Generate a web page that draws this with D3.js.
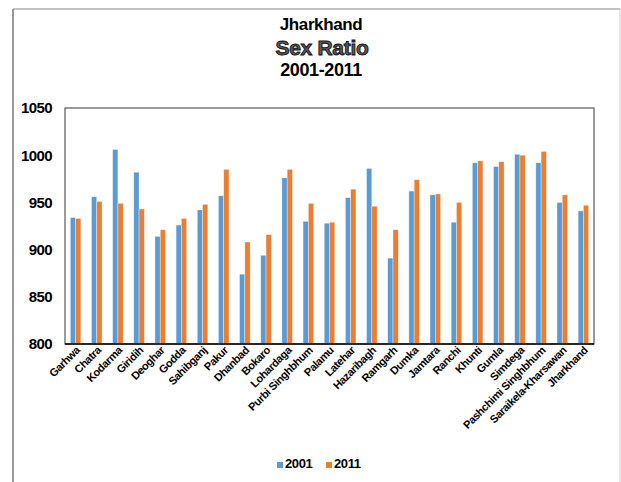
<!DOCTYPE html>
<html>
<head>
<meta charset="utf-8">
<script src="https://cdn.jsdelivr.net/npm/d3@7"></script>
<style>
  body { margin: 0; background: #fff; }
  svg { display: block; font-family: "Liberation Sans", Arial, sans-serif; }
</style>
</head>
<body>
<script>
// Districts of Jharkhand (last one is the state total)
var districts = ["Garhwa", "Chatra", "Kodarma", "Giridih", "Deoghar", "Godda", "Sahibganj",
  "Pakur", "Dhanbad", "Bokaro", "Lohardaga", "Purbi Singhbhum", "Palamu", "Latehar",
  "Hazaribagh", "Ramgarh", "Dumka", "Jamtara", "Ranchi", "Khunti", "Gumla", "Simdega",
  "Pashchimi Singhbhum", "Saraikela-Kharsawan", "Jharkhand"];

// Sex ratio values
var ratio2001 = [934, 956, 1006, 982, 914, 926, 942, 957, 874, 894, 976, 930, 928, 955,
  986, 891, 962, 958, 929, 992, 988, 1001, 992, 950, 941];
var ratio2011 = [933, 951, 949, 943, 921, 933, 948, 985, 908, 916, 985, 949, 929, 964,
  946, 921, 974, 959, 950, 994, 993, 1000, 1004, 958, 947];

var years = ["2001", "2011"];
var colors = ["#5B9BD5", "#ED7D31"];
var yTicks = [800, 850, 900, 950, 1000, 1050];

var svgWidth = 621;
var svgHeight = 482;

// plot area
var plot = { left: 65, top: 108, right: 594, bottom: 344 };

var svg = d3.select("body")
  .append("svg")
  .attr("width", svgWidth)
  .attr("height", svgHeight);

// outer frame of the chart object
svg.append("line").attr("x1", 13).attr("y1", 9).attr("x2", 13).attr("y2", svgHeight)
  .attr("stroke", "#555").attr("stroke-width", 1.2);
svg.append("line").attr("x1", 13).attr("y1", 9).attr("x2", 620).attr("y2", 9)
  .attr("stroke", "#888").attr("stroke-width", 1.2);
svg.append("line").attr("x1", 620).attr("y1", 9).attr("x2", 620).attr("y2", svgHeight)
  .attr("stroke", "#ccc").attr("stroke-width", 1);

// titles
svg.append("text").attr("x", 321).attr("y", 30).attr("text-anchor", "middle")
  .attr("font-size", 17).attr("font-weight", "bold").attr("letter-spacing", -0.4)
  .text("Jharkhand");
svg.append("text").attr("x", 322).attr("y", 55).attr("text-anchor", "middle")
  .attr("font-size", 21).attr("font-weight", "bold").attr("letter-spacing", -0.3)
  .attr("fill", "#595959").attr("stroke", "#111").attr("stroke-width", 0.9)
  .text("Sex Ratio");
svg.append("text").attr("x", 321).attr("y", 76).attr("text-anchor", "middle")
  .attr("font-size", 18).attr("font-weight", "bold").attr("letter-spacing", -0.4)
  .text("2001-2011");

// scales
var x0 = d3.scaleBand()
  .domain(districts)
  .range([plot.left, plot.right])
  .paddingInner(0.5)
  .paddingOuter(0.25);

var x1 = d3.scaleBand()
  .domain(years)
  .range([0, x0.bandwidth()]);

var y = d3.scaleLinear()
  .domain([800, 1050])
  .range([plot.bottom, plot.top]);

var color = d3.scaleOrdinal().domain(years).range(colors);

// plot box
svg.append("rect")
  .attr("x", plot.left).attr("y", plot.top)
  .attr("width", plot.right - plot.left).attr("height", plot.bottom - plot.top)
  .attr("fill", "none").attr("stroke", "#595959").attr("stroke-width", 1.2);

// bars
var rows = districts.map(function(d, i) {
  return { name: d, values: [ratio2001[i], ratio2011[i]] };
});

var groups = svg.append("g").selectAll("g")
  .data(rows)
  .enter()
  .append("g")
  .attr("transform", function(d) { return "translate(" + x0(d.name) + ",0)"; });

groups.selectAll("rect")
  .data(function(d) {
    return years.map(function(yr, j) { return { year: yr, value: d.values[j] }; });
  })
  .enter()
  .append("rect")
  .attr("x", function(d) { return x1(d.year); })
  .attr("width", x1.bandwidth())
  .attr("y", function(d) { return y(d.value); })
  .attr("height", function(d) { return y(800) - y(d.value); })
  .attr("fill", function(d) { return color(d.year); })
  .attr("stroke", "#fff")
  .attr("stroke-opacity", 0.6)
  .attr("stroke-width", 0.6);

// y axis
var yAxis = d3.axisLeft(y).tickValues(yTicks).tickFormat(d3.format("d"))
  .tickSize(0).tickPadding(13);
var yg = svg.append("g")
  .attr("transform", "translate(" + plot.left + ",0)")
  .call(yAxis);
yg.select(".domain").remove();
yg.selectAll("text")
  .attr("font-size", 15).attr("font-weight", "bold").attr("letter-spacing", -0.6)
  .attr("font-family", "Liberation Sans, Arial, sans-serif")
  .attr("fill", "#000");

// x axis baseline
svg.append("line")
  .attr("x1", plot.left).attr("x2", plot.right)
  .attr("y1", plot.bottom).attr("y2", plot.bottom)
  .attr("stroke", "#000").attr("stroke-width", 1.5);

// x labels, rotated
var xAxis = d3.axisBottom(x0).tickSize(0).tickPadding(0);
var xg = svg.append("g")
  .attr("transform", "translate(0," + plot.bottom + ")")
  .call(xAxis);
xg.select(".domain").remove();
xg.selectAll("text")
  .attr("font-size", 11).attr("font-weight", "bold").attr("letter-spacing", -0.4)
  .attr("font-family", "Liberation Sans, Arial, sans-serif")
  .attr("fill", "#000")
  .attr("text-anchor", "end")
  .attr("dy", 0)
  .attr("y", 0)
  .attr("transform", "translate(5,7) rotate(-45)");

// legend
var legend = svg.append("g").attr("transform", "translate(277,462)");
var items = legend.selectAll("g")
  .data(years)
  .enter()
  .append("g")
  .attr("transform", function(d, i) { return "translate(" + (i * 49) + ",0)"; });
items.append("rect")
  .attr("width", 6).attr("height", 6)
  .attr("fill", function(d) { return color(d); });
items.append("text")
  .attr("x", 8).attr("y", 6)
  .attr("font-size", 13).attr("font-weight", "bold").attr("letter-spacing", -0.4)
  .text(function(d) { return d; });
</script>
</body>
</html>
